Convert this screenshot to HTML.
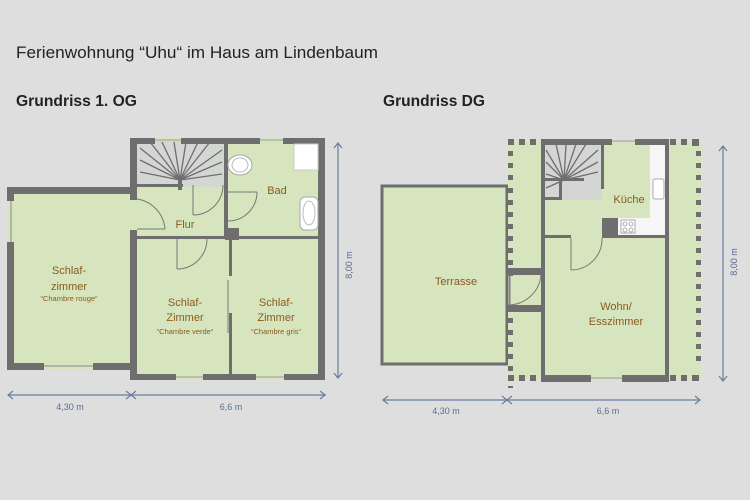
<!DOCTYPE html>
<html><head><meta charset="utf-8"><style>
html,body{margin:0;padding:0;background:#dedede;}
svg{display:block;font-family:"Liberation Sans",sans-serif;}
</style></head><body>
<svg width="750" height="500" viewBox="0 0 750 500" xmlns="http://www.w3.org/2000/svg">
<rect width="750" height="500" fill="#dedede"/>
<text x="16" y="58" font-size="17" fill="#222" textLength="362" lengthAdjust="spacingAndGlyphs">Ferienwohnung “Uhu“ im Haus am Lindenbaum</text>
<text x="16" y="106" font-size="16" font-weight="bold" fill="#222" textLength="121" lengthAdjust="spacingAndGlyphs">Grundriss 1. OG</text>
<text x="383" y="106" font-size="16" font-weight="bold" fill="#222" textLength="102" lengthAdjust="spacingAndGlyphs">Grundriss DG</text>

<!-- ===== LEFT PLAN ===== -->
<g>
<rect x="7" y="187" width="130" height="183" fill="#d7e5be"/>
<rect x="130" y="138" width="195" height="242" fill="#d7e5be"/>
<rect x="137" y="141" width="88" height="46" fill="#d4d6d4"/>
<g stroke="#6e6e6e" stroke-width="1.3">
<line x1="180" y1="180" x2="140" y2="148"/><line x1="180" y1="180" x2="140" y2="160"/><line x1="180" y1="180" x2="140" y2="172"/>
<line x1="180" y1="180" x2="150" y2="142"/><line x1="180" y1="180" x2="162" y2="142"/><line x1="180" y1="180" x2="174" y2="142"/>
<line x1="180" y1="180" x2="186" y2="142"/><line x1="180" y1="180" x2="198" y2="142"/><line x1="180" y1="180" x2="210" y2="142"/>
<line x1="180" y1="180" x2="222" y2="150"/><line x1="180" y1="180" x2="222" y2="162"/><line x1="180" y1="180" x2="222" y2="174"/>
</g>
<rect x="137" y="184" width="46" height="3" fill="#6e6e6e"/>
<rect x="178" y="178" width="4" height="12" fill="#6e6e6e"/>
<!-- walls left room -->
<rect x="7" y="187" width="130" height="7" fill="#6e6e6e"/>
<rect x="7" y="187" width="7" height="14" fill="#6e6e6e"/>
<rect x="7" y="242" width="7" height="128" fill="#6e6e6e"/>
<line x1="11" y1="201" x2="11" y2="242" stroke="#888" stroke-width="1"/>
<rect x="7" y="363" width="37" height="7" fill="#6e6e6e"/>
<rect x="93" y="363" width="44" height="7" fill="#6e6e6e"/>
<line x1="44" y1="366" x2="93" y2="366" stroke="#888"/>
<!-- right block walls -->
<rect x="130" y="138" width="7" height="62" fill="#6e6e6e"/>
<rect x="130" y="230" width="7" height="150" fill="#6e6e6e"/>
<rect x="130" y="138" width="25" height="6" fill="#6e6e6e"/>
<rect x="181" y="138" width="79" height="6" fill="#6e6e6e"/>
<rect x="283" y="138" width="42" height="6" fill="#6e6e6e"/>
<line x1="155" y1="140" x2="181" y2="140" stroke="#999"/><line x1="260" y1="140" x2="283" y2="140" stroke="#999"/>
<rect x="318" y="138" width="7" height="242" fill="#6e6e6e"/>
<rect x="130" y="374" width="46" height="6" fill="#6e6e6e"/>
<rect x="203" y="374" width="53" height="6" fill="#6e6e6e"/>
<rect x="284" y="374" width="41" height="6" fill="#6e6e6e"/>
<line x1="176" y1="377" x2="203" y2="377" stroke="#999"/><line x1="256" y1="377" x2="284" y2="377" stroke="#999"/>
<!-- internal -->
<rect x="224" y="138" width="4" height="100" fill="#6e6e6e"/>
<rect x="225" y="228" width="14" height="12" fill="#6e6e6e"/>
<rect x="137" y="236" width="188" height="3" fill="#6e6e6e"/>
<rect x="229" y="239" width="3" height="37" fill="#6e6e6e"/>
<rect x="229" y="313" width="3" height="67" fill="#6e6e6e"/>
<line x1="228" y1="280" x2="228" y2="333" stroke="#777"/>
<!-- doors -->
<g fill="none" stroke="#777" stroke-width="1">
<path d="M137 199 A33 33 0 0 1 165 229"/><line x1="137" y1="229" x2="165" y2="229"/>
<path d="M193 215 A30 30 0 0 0 223 185"/><line x1="193" y1="185" x2="193" y2="215"/>
<path d="M228 221 A29 29 0 0 0 257 192"/><line x1="228" y1="192" x2="257" y2="192"/>
<path d="M177 269 A30 30 0 0 0 207 239"/><line x1="177" y1="239" x2="177" y2="269"/>
</g>
<!-- fixtures -->
<ellipse cx="240" cy="165" rx="12" ry="10" fill="#fff" stroke="#aaa"/>
<ellipse cx="240" cy="165" rx="8" ry="7" fill="none" stroke="#bbb"/>
<rect x="294" y="144" width="24" height="26" fill="#fff" stroke="#ccc"/>
<rect x="300" y="197" width="18" height="33" rx="5" fill="#fff" stroke="#aaa"/>
<ellipse cx="309" cy="213" rx="6" ry="12" fill="none" stroke="#bbb"/>
<!-- labels -->
<g fill="#8a5a1e" font-size="11" text-anchor="middle">
<text x="277" y="194">Bad</text>
<text x="185" y="228">Flur</text>
<text x="69" y="274">Schlaf-</text><text x="69" y="290">zimmer</text>
<text x="185" y="306">Schlaf-</text><text x="185" y="321">Zimmer</text>
<text x="276" y="306">Schlaf-</text><text x="276" y="321">Zimmer</text>
<g font-size="7.5"><text x="69" y="301">“Chambre rouge“</text><text x="185" y="334">“Chambre verde“</text><text x="276" y="334">“Chambre gris“</text></g>
</g>
</g>

<!-- ===== RIGHT PLAN ===== -->
<g>
<rect x="382" y="186" width="125" height="178" fill="#d7e5be" stroke="#6e6e6e" stroke-width="3"/>
<rect x="508" y="142" width="193" height="237" fill="#d7e5be"/>
<rect x="544" y="144" width="58" height="56" fill="#d4d6d4"/>
<g stroke="#6e6e6e" stroke-width="1.3">
<line x1="564" y1="180" x2="546" y2="150"/><line x1="564" y1="180" x2="546" y2="162"/><line x1="564" y1="180" x2="546" y2="174"/><line x1="564" y1="180" x2="546" y2="188"/>
<line x1="564" y1="180" x2="556" y2="144"/><line x1="564" y1="180" x2="566" y2="144"/><line x1="564" y1="180" x2="576" y2="144"/><line x1="564" y1="180" x2="586" y2="144"/>
<line x1="564" y1="180" x2="598" y2="150"/><line x1="564" y1="180" x2="598" y2="162"/><line x1="564" y1="180" x2="598" y2="172"/>
</g>
<rect x="544" y="178" width="40" height="3" fill="#6e6e6e"/>
<rect x="559" y="180" width="3" height="20" fill="#6e6e6e"/>
<rect x="544" y="197" width="18" height="3" fill="#6e6e6e"/>
<!-- dotted walls -->
<g fill="#6e6e6e">
<rect x="508" y="139" width="6" height="6"/><rect x="519" y="139" width="6" height="6"/><rect x="530" y="139" width="6" height="6"/>
<rect x="670" y="139" width="6" height="6"/><rect x="681" y="139" width="6" height="6"/><rect x="692" y="139" width="7" height="7"/>
<rect x="508" y="375" width="6" height="6"/><rect x="519" y="375" width="6" height="6"/><rect x="530" y="375" width="6" height="6"/>
<rect x="670" y="375" width="6" height="6"/><rect x="681" y="375" width="6" height="6"/><rect x="692" y="375" width="7" height="6"/>
</g>
<g fill="#6e6e6e" id="dl">
<rect x="508" y="151" width="5" height="5"/><rect x="508" y="163" width="5" height="5"/><rect x="508" y="175" width="5" height="5"/><rect x="508" y="188" width="5" height="5"/>
<rect x="508" y="200" width="5" height="5"/><rect x="508" y="212" width="5" height="5"/><rect x="508" y="224" width="5" height="5"/><rect x="508" y="236" width="5" height="5"/>
<rect x="508" y="248" width="5" height="5"/><rect x="508" y="260" width="5" height="5"/>
<rect x="508" y="318" width="5" height="5"/><rect x="508" y="330" width="5" height="5"/><rect x="508" y="342" width="5" height="5"/><rect x="508" y="354" width="5" height="5"/><rect x="508" y="366" width="5" height="5"/>
<rect x="508" y="386" width="5" height="2"/>
</g>
<g fill="#6e6e6e">
<rect x="696" y="151" width="5" height="5"/><rect x="696" y="163" width="5" height="5"/><rect x="696" y="175" width="5" height="5"/><rect x="696" y="188" width="5" height="5"/>
<rect x="696" y="200" width="5" height="5"/><rect x="696" y="212" width="5" height="5"/><rect x="696" y="224" width="5" height="5"/><rect x="696" y="236" width="5" height="5"/>
<rect x="696" y="248" width="5" height="5"/><rect x="696" y="260" width="5" height="5"/><rect x="696" y="272" width="5" height="5"/><rect x="696" y="284" width="5" height="5"/>
<rect x="696" y="296" width="5" height="5"/><rect x="696" y="308" width="5" height="5"/><rect x="696" y="320" width="5" height="5"/><rect x="696" y="332" width="5" height="5"/>
<rect x="696" y="344" width="5" height="5"/><rect x="696" y="356" width="5" height="5"/>
</g>
<!-- solid walls -->
<g fill="#6e6e6e">
<rect x="541" y="139" width="71" height="6"/>
<rect x="635" y="139" width="33" height="6"/>
<rect x="541" y="139" width="4" height="243"/>
<rect x="665" y="139" width="4" height="243"/>
<rect x="541" y="375" width="50" height="7"/>
<rect x="622" y="375" width="46" height="7"/>
<rect x="601" y="139" width="3" height="50"/>
<rect x="541" y="235" width="30" height="3"/>
<rect x="602" y="218" width="16" height="20"/>
<rect x="602" y="235" width="66" height="3"/>
<rect x="508" y="268" width="36" height="7"/>
<rect x="508" y="305" width="36" height="7"/>
<rect x="508" y="268" width="5" height="8"/>
</g>
<line x1="612" y1="141" x2="635" y2="141" stroke="#999"/>
<line x1="591" y1="378" x2="622" y2="378" stroke="#999"/>
<line x1="510" y1="275" x2="510" y2="305" stroke="#888"/>
<!-- kitchen counter -->
<rect x="650" y="145" width="15" height="90" fill="#f6f6f6"/>
<rect x="618" y="218" width="47" height="17" fill="#f6f6f6"/>
<rect x="653" y="179" width="11" height="20" rx="2" fill="#fff" stroke="#aaa"/>
<rect x="621" y="220" width="14" height="13" fill="#fff" stroke="#aaa"/>
<g fill="none" stroke="#999" stroke-width=".8"><circle cx="625" cy="224" r="2"/><circle cx="631" cy="224" r="2"/><circle cx="625" cy="230" r="2"/><circle cx="631" cy="230" r="2"/></g>
<!-- doors -->
<g fill="none" stroke="#777" stroke-width="1">
<path d="M571 270 A31 31 0 0 0 602 238"/><line x1="571" y1="238" x2="571" y2="270"/>
<path d="M508 305 A33 33 0 0 0 541 275"/><line x1="509" y1="275" x2="509" y2="305"/>
</g>
<g fill="#8a5a1e" font-size="11" text-anchor="middle">
<text x="629" y="203">Küche</text>
<text x="456" y="285">Terrasse</text>
<text x="616" y="310">Wohn/</text><text x="616" y="325">Esszimmer</text>
</g>
</g>

<!-- dimensions -->
<g stroke="#6a7da0" stroke-width="1.2" fill="none">
<line x1="8" y1="395" x2="326" y2="395"/>
<path d="M13 391 L8 395 L13 399"/><path d="M126 391 L131 395 L126 399"/><path d="M136 391 L131 395 L136 399"/><path d="M320 391 L325 395 L320 399"/>
<line x1="338" y1="143" x2="338" y2="378"/>
<path d="M334 148 L338 143 L342 148"/><path d="M334 373 L338 378 L342 373"/>
<line x1="383" y1="400" x2="700" y2="400"/>
<path d="M388 396 L383 400 L388 404"/><path d="M502 396 L507 400 L502 404"/><path d="M512 396 L507 400 L512 404"/><path d="M695 396 L700 400 L695 404"/>
<line x1="723" y1="146" x2="723" y2="381"/>
<path d="M719 151 L723 146 L727 151"/><path d="M719 376 L723 381 L727 376"/>
</g>
<g fill="#5a6d92" font-size="9" text-anchor="middle">
<text x="70" y="410">4,30 m</text><text x="231" y="410">6,6 m</text>
<text x="446" y="414">4,30 m</text><text x="608" y="414">6,6 m</text>
<text transform="translate(352,265) rotate(-90)">8,00 m</text>
<text transform="translate(737,262) rotate(-90)">8,00 m</text>
</g>
</svg>
</body></html>
